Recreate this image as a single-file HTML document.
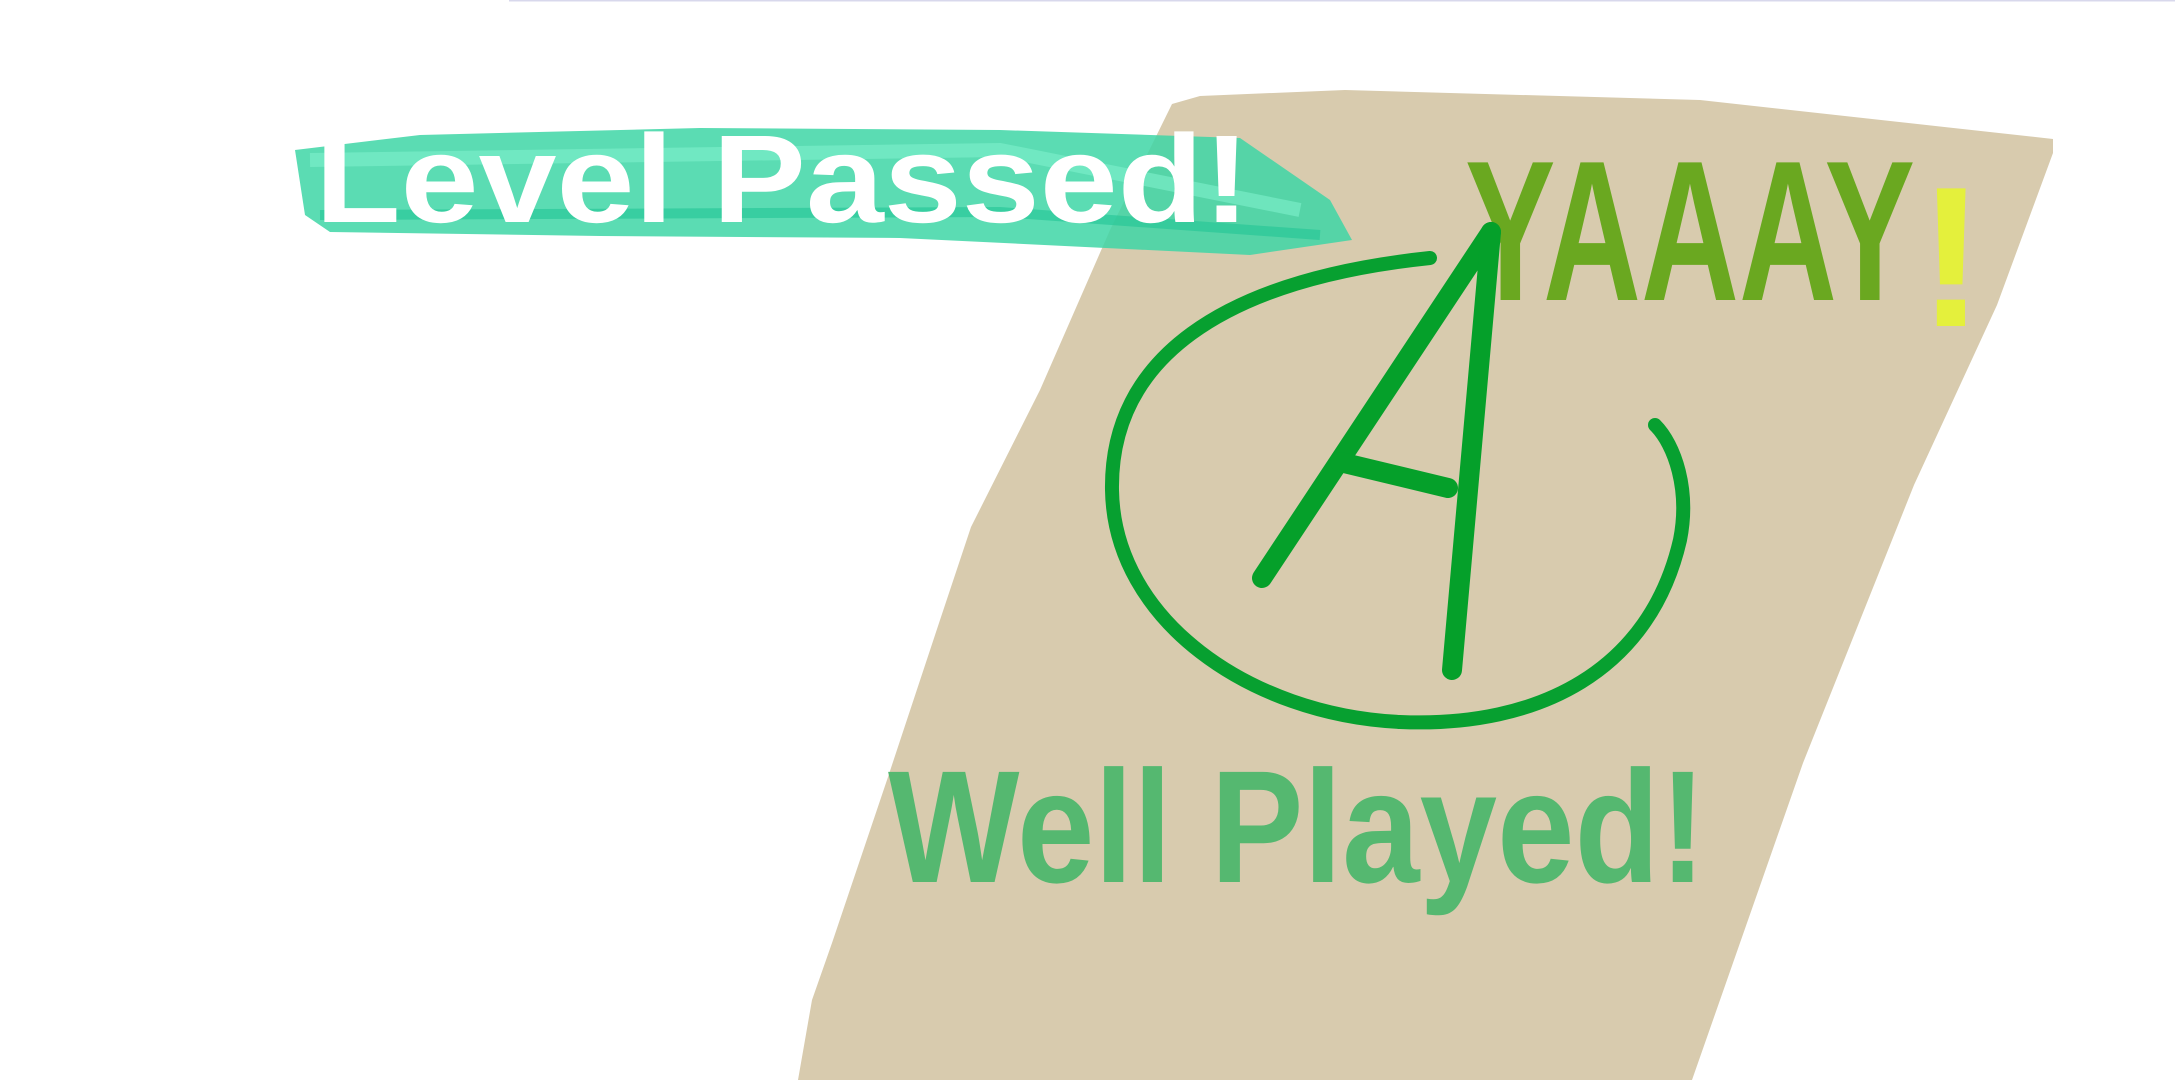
<!DOCTYPE html>
<html><head><meta charset="utf-8"><style>
html,body{margin:0;padding:0;background:#fff;width:2175px;height:1080px;overflow:hidden}
svg{display:block}
text{font-family:"Liberation Sans",sans-serif;font-weight:bold}
</style></head><body>
<svg width="2175" height="1080" viewBox="0 0 2175 1080">
<line x1="509" y1="0.5" x2="2175" y2="0.5" stroke="#d8d8ec" stroke-width="2"/>
<path fill="#d8cbae"
 d="M1172,104 L1200,96 L1345,90 L1700,100 L2053,139 L2053,153 L1997,305 L1914,485 L1803,763 L1692,1080 L798,1080 L812,1000 L832,943 L888,777 L940,620 L971,527 L1040,390 L1110,230 Z"/>
<g>
<path d="M295,150 L420,135 L700,128 L1000,130 L1240,138 L1330,200 L1352,240 L1250,255 L900,238 L600,236 L330,232 L305,215 Z" fill="#3ed6a6" opacity="0.85"/>
<path d="M310,160 L1000,150 L1300,210" stroke="#7ff0cc" stroke-width="14" fill="none" opacity="0.6"/>
<path d="M320,215 L1000,212 L1320,235" stroke="#22c494" stroke-width="10" fill="none" opacity="0.6"/>
</g>
<text x="315" y="222" font-size="125" fill="#fff" textLength="935" lengthAdjust="spacingAndGlyphs" font-weight="normal">Level Passed!</text>
<text x="1465" y="300" font-size="200" fill="#6aa820" textLength="450" lengthAdjust="spacingAndGlyphs" font-weight="normal">YAAAY</text>
<text x="1918" y="326" font-size="200" fill="#e4f03c">!</text>
<path d="M1430,258 C1220,280 1110,360 1112,490 C1114,620 1250,715 1400,722 C1540,728 1650,670 1680,540 C1690,490 1675,445 1655,425" fill="none" stroke="#07a030" stroke-width="14" stroke-linecap="round"/>
<g stroke="#05a02a" stroke-width="20" stroke-linecap="round" fill="none">
<path d="M1262,578 L1491,232"/>
<path d="M1491,232 L1452,670"/>
<path d="M1340,462 L1448,488"/>
</g>
<text x="888" y="882" font-size="160" fill="#55b870" textLength="818" lengthAdjust="spacingAndGlyphs" font-weight="normal">Well Played!</text>
</svg>
</body></html>
